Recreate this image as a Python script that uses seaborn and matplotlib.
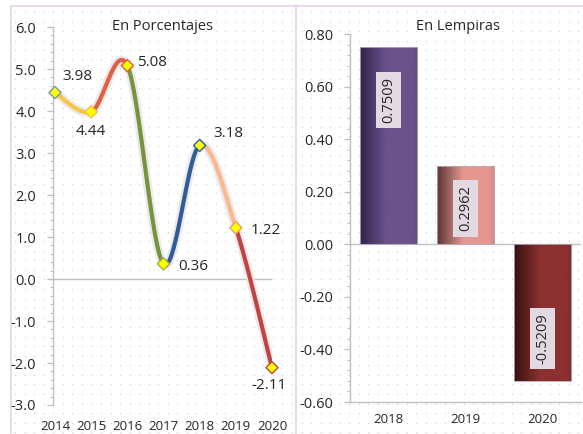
import numpy as np
import pandas as pd
import matplotlib
matplotlib.use("Agg")
import matplotlib.pyplot as plt
import matplotlib.patheffects as pe
from matplotlib.colors import LinearSegmentedColormap, to_rgb
import seaborn as sns

# ---------------- data ----------------
years_pct = ["2014", "2015", "2016", "2017", "2018", "2019", "2020"]
pct_values = [4.44, 3.98, 5.08, 0.36, 3.18, 1.22, -2.11]
pct_labels = ["3.98", "4.44", "5.08", "0.36", "3.18", "1.22", "-2.11"]

years_lps = ["2018", "2019", "2020"]
lps_values = [0.7509, 0.2962, -0.5209]
lps_labels = ["0.7509", "0.2962", "-0.5209"]

# ---------------- styles ----------------
segment_colors = ["#F7C548", "#E2603F", "#77933C", "#2F5E97", "#F9B98A", "#C0443F"]
marker_edges = ["#6E9E9E", "#F5C040", "#E05A3A", "#A8B030", "#2F5E97", "#F0A060", "#C0443F"]
label_offsets = [(22, 16), (0, -20), (25, 3), (30, -3), (29, 12), (30, -3), (-3, -18)]
bar_dark = ["#30244A", "#5A3636", "#351010"]
bar_light = ["#6C528A", "#E6978F", "#8C3030"]
bar_label_frac = [0.73, 0.46, 0.69]

sns.set_theme(style="white")
plt.rcParams["font.family"] = ["Open Sans", "DejaVu Sans"]
TXT = "#262626"
AX = "#BFBFBF"

W, H = 583, 434
fig = plt.figure(figsize=(W / 100, H / 100), dpi=100)
fig.patch.set_facecolor("white")


def fa(x0, y0, x1, y1):
    return [x0 / W, 1 - y1 / H, (x1 - x0) / W, (y1 - y0) / H]


# background dotted pattern and panel borders
bg = fig.add_axes([0, 0, 1, 1], zorder=-5)
bg.set_xlim(0, W)
bg.set_ylim(H, 0)
bg.axis("off")
gx, gy = np.meshgrid(np.arange(15, W, 9.55), np.arange(12, H, 9.55))
bg.scatter(gx.ravel(), gy.ravel(), s=0.9, c="#D2D2D2", linewidths=0)
border = "#E4D4E4"
bg.plot([11, 11], [6, H], color=border, lw=1.2)
bg.plot([11, W], [6, 6], color=border, lw=1.2)
bg.plot([296, 296], [6, H], color=border, lw=1.2)


# ---------------- left: smooth line ----------------
def smooth_curve(xs, ys, n=60):
    P = np.column_stack([xs, ys]).astype(float)
    rows = []
    for i in range(len(P) - 1):
        p0 = P[i - 1] if i > 0 else P[i]
        p1, p2 = P[i], P[i + 1]
        p3 = P[i + 2] if i + 2 < len(P) else P[i + 1]
        c1 = p1 + (p2 - p0) / 6
        c2 = p2 - (p3 - p1) / 6
        t = np.linspace(0, 1, n)[:, None]
        B = (1 - t) ** 3 * p1 + 3 * (1 - t) ** 2 * t * c1 + 3 * (1 - t) * t ** 2 * c2 + t ** 3 * p2
        for x, y in B:
            rows.append({"x": x, "y": y, "seg": i})
    return pd.DataFrame(rows)


idx = np.arange(len(years_pct))
curve = smooth_curve(idx, pct_values)

ax1 = fig.add_axes(fa(53, 27, 272, 405))
ax1.set_facecolor("none")
sns.lineplot(data=curve, x="x", y="y", hue="seg", palette=segment_colors,
             sort=False, estimator=None, legend=False, linewidth=3.0, ax=ax1)
for ln in ax1.lines:
    ln.set_solid_capstyle("round")
    ln.set_path_effects([pe.Stroke(linewidth=6.5, foreground="#EAE3EC", alpha=0.8), pe.Normal()])

pts = pd.DataFrame({"x": idx, "y": pct_values})
sns.scatterplot(data=pts, x="x", y="y", marker="D", s=38, color="#FFFF00",
                edgecolor=marker_edges, linewidth=1.0, zorder=5, clip_on=False, ax=ax1)

for i, (lab, off) in enumerate(zip(pct_labels, label_offsets)):
    ax1.annotate(lab, (idx[i], pct_values[i]), xytext=off, textcoords="offset pixels",
                 ha="center", va="center", fontsize=11, color=TXT)

ax1.set_xlim(-0.055, 6)
ax1.set_ylim(-3, 6)
ax1.set_yticks(np.arange(-3, 6.1, 1))
ax1.set_yticklabels([f"{v:.1f}" for v in np.arange(-3, 6.1, 1)])
ax1.set_yticks(np.arange(-3, 6.01, 0.2), minor=True)
ax1.set_xticks(idx)
ax1.set_xticklabels(years_pct)
ax1.axhline(0, color=AX, lw=1.0, zorder=1)
for s in ["top", "right", "bottom"]:
    ax1.spines[s].set_visible(False)
ax1.spines["left"].set_color(AX)
ax1.spines["left"].set_linewidth(1.0)
ax1.tick_params(axis="y", which="major", direction="out", length=4, width=0.9, color=AX,
                labelsize=10.5, labelcolor=TXT, pad=8, left=True)
ax1.tick_params(axis="y", which="minor", direction="out", length=2.5, width=0.7, color=AX, left=True)
ax1.tick_params(axis="x", length=0, labelsize=9.5, labelcolor=TXT, pad=11)
ax1.set_xlabel("")
ax1.set_ylabel("")

fig.text(162 / W, 1 - 26 / H, "En Porcentajes", ha="center", va="center", fontsize=10.5, color=TXT)

# ---------------- right: bars ----------------
ax2 = fig.add_axes(fa(350, 34, 581, 402))
ax2.set_facecolor("none")
bdf = pd.DataFrame({"year": years_lps, "value": lps_values})
sns.barplot(data=bdf, x="year", y="value", width=0.75, color="#888888", ax=ax2,
            edgecolor="#B8A8B8", linewidth=0.6, zorder=3)
ax2.set_xlim(-0.5, 2.5)
ax2.set_ylim(-0.6, 0.8)

for i, patch in enumerate(ax2.patches):
    x0, y0 = patch.get_x(), patch.get_y()
    w, h = patch.get_width(), patch.get_height()
    dark = np.array(to_rgb(bar_dark[i]))
    light = np.array(to_rgb(bar_light[i]))
    edge = light * 0.85 + dark * 0.15
    cmap = LinearSegmentedColormap.from_list(
        f"g{i}", [(0, dark), (0.45, light), (0.9, light), (1, edge)])
    grad = np.linspace(0, 1, 256)[None, :]
    im = ax2.imshow(grad, extent=[x0, x0 + w, min(y0, y0 + h), max(y0, y0 + h)],
                    aspect="auto", cmap=cmap, zorder=3.5, origin="lower")
    im.set_clip_path(patch)
    patch.set_facecolor("none")
    patch.set_zorder(4)

for i, (v, lab) in enumerate(zip(lps_values, lps_labels)):
    ax2.text(i, v * bar_label_frac[i], lab, rotation=90, ha="center", va="center",
             fontsize=10.5, color=TXT, zorder=6,
             bbox=dict(boxstyle="square,pad=0.35", fc="#E2D9E3", ec="none"))

ax2.set_xlim(-0.5, 2.5)
ax2.set_ylim(-0.6, 0.8)
ax2.set_yticks(np.arange(-0.6, 0.81, 0.2))
ax2.set_yticklabels([f"{v:.2f}" for v in np.arange(-0.6, 0.81, 0.2)])
ax2.set_yticks(np.arange(-0.6, 0.801, 0.04), minor=True)
ax2.axhline(0, color=AX, lw=1.0, zorder=2)
for s in ["top", "right"]:
    ax2.spines[s].set_visible(False)
for s in ["left", "bottom"]:
    ax2.spines[s].set_color(AX)
    ax2.spines[s].set_linewidth(1.0)
ax2.tick_params(axis="y", which="major", direction="out", length=4, width=0.9, color=AX,
                labelsize=10.5, labelcolor=TXT, pad=8, left=True)
ax2.tick_params(axis="y", which="minor", direction="out", length=2.5, width=0.7, color=AX, left=True)
ax2.tick_params(axis="x", length=0, labelsize=9.5, labelcolor=TXT, pad=8)
ax2.set_xlabel("")
ax2.set_ylabel("")

fig.text(458 / W, 1 - 26 / H, "En Lempiras", ha="center", va="center", fontsize=10.5, color=TXT)

fig.savefig("out.png", dpi=100, facecolor="white")
